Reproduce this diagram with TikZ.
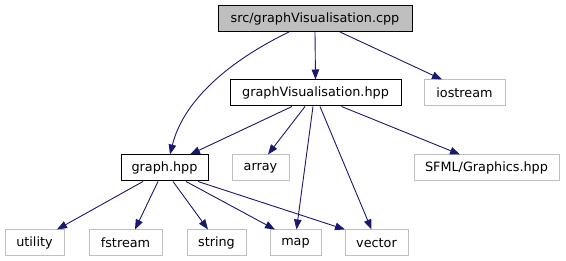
\documentclass[tikz,border=0pt]{standalone}
\usepackage{fontspec}
\setmainfont{DejaVu Sans}
\usetikzlibrary{arrows.meta}
\definecolor{edgeblue}{HTML}{191970}
\definecolor{lightgrey}{HTML}{BFBFBF}
\begin{document}
\begin{tikzpicture}[x=1pt,y=-1pt,
  box/.style={draw=black,line width=1pt,minimum height=26pt,inner sep=0pt,
    font=\fontsize{12.8}{15}\selectfont,anchor=center},
  rootbox/.style={box,fill=lightgrey},
  extbox/.style={box,draw=lightgrey},
  dep/.style={draw=edgeblue,line width=0.9pt,
    -{Triangle[length=10pt,width=7.5pt]}}]
\useasboundingbox (0,0) rectangle (566,261);

% nodes, row by row
\node[rootbox,minimum width=194pt] (src) at (315,18.5) {src/graphVisualisation.cpp};

\node[box,minimum width=171pt] (gvh) at (315.5,93) {graphVisualisation.hpp};
\node[extbox,minimum width=81pt] (ios) at (464.5,93) {iostream};

\node[box,minimum width=87pt] (graph) at (164.5,168) {graph.hpp};
\node[extbox,minimum width=57pt] (array) at (260.5,168) {array};
\node[extbox,minimum width=145pt] (sfml) at (486.5,168) {SFML/Graphics.hpp};

\node[extbox,minimum width=59pt] (utility) at (34.5,243) {utility};
\node[extbox,minimum width=73pt] (fstream) at (125.5,243) {fstream};
\node[extbox,minimum width=59pt] (string) at (216.5,243) {string};
\node[extbox,minimum width=51pt] (map) at (295.5,243) {map};
\node[extbox,minimum width=63pt] (vector) at (376.5,243) {vector};

% includes of the source file
\draw[dep] (src.south) -- (gvh.north);
\draw[dep] ([xshift=25pt]src.south) -- ([xshift=-22.5pt]ios.north);
\draw[dep] ([xshift=-26pt]src.south) .. controls +(-49,23.5) and +(15,-60) .. ([xshift=5.5pt]graph.north);

% includes of graphVisualisation.hpp
\draw[dep] ([xshift=-23.5pt]gvh.south) -- ([xshift=25.5pt]graph.north);
\draw[dep] ([xshift=-10.5pt]gvh.south) -- ([xshift=7.5pt]array.north);
\draw[dep] ([xshift=-2.5pt]gvh.south) -- ([xshift=1pt]map.north);
\draw[dep] ([xshift=4.5pt]gvh.south) -- ([xshift=-5pt]vector.north);
\draw[dep] ([xshift=26pt]gvh.south) -- ([xshift=-26.5pt]sfml.north);

% includes of graph.hpp
\draw[dep] ([xshift=-21.5pt]graph.south) -- ([xshift=22.5pt]utility.north);
\draw[dep] ([xshift=-6.5pt]graph.south) -- ([xshift=9.5pt]fstream.north);
\draw[dep] ([xshift=8.5pt]graph.south) -- ([xshift=-8.5pt]string.north);
\draw[dep] ([xshift=21.5pt]graph.south) -- ([xshift=-20.5pt]map.north);
\draw[dep] ([xshift=33.5pt]graph.south) -- ([xshift=-31.5pt]vector.north);
\end{tikzpicture}
\end{document}
